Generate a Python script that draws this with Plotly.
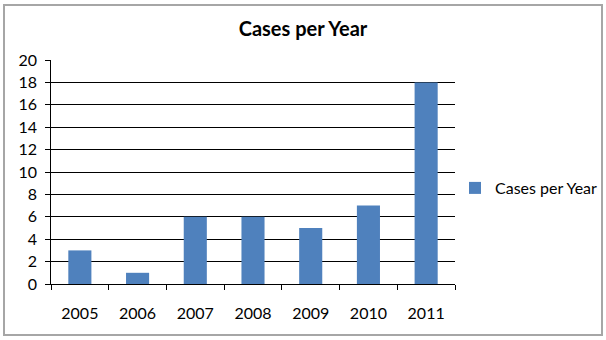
import plotly.graph_objects as go

years = ["2005", "2006", "2007", "2008", "2009", "2010", "2011"]
cases = [3, 1, 6, 6, 5, 7, 18]
series_name = "Cases per Year"
y_ticks = list(range(0, 21, 2))

W, H = 606, 340
L, R, T, B = 51, 151, 60, 56
pw, ph = W - L - R, H - T - B

fig = go.Figure()
fig.add_trace(go.Bar(x=years, y=cases, name=series_name,
                     marker=dict(color="#4F81BD", line=dict(width=0))))
# invisible copy that carries the (offset) tick labels
fig.add_trace(go.Bar(x=years, y=cases, xaxis="x2", yaxis="y2", opacity=0,
                     showlegend=False, hoverinfo="skip"))

def px_x(p):
    return (p - L) / pw

def px_y(p):
    return (H - B - p) / ph

fig.add_shape(type="rect", xref="paper", yref="paper",
              x0=px_x(4), x1=px_x(602), y0=px_y(335), y1=px_y(5),
              line=dict(color="#A6A6A6", width=2), fillcolor="rgba(0,0,0,0)",
              layer="below")

clear = "rgba(0,0,0,0)"

fig.update_layout(
    width=W, height=H,
    margin=dict(l=L, r=R, t=T, b=B, autoexpand=False),
    paper_bgcolor="white", plot_bgcolor="white",
    font=dict(family="Lato, Open Sans, sans-serif", color="#000", size=16),
    title=dict(text="<b>Cases per Year</b>", x=0.5, xanchor="center",
               xref="container", yref="container",
               y=1 - 29 / H, yanchor="middle", font=dict(size=20)),
    bargap=0.6,
    showlegend=True,
    legend=dict(xref="container", yref="container",
                x=455 / W, xanchor="left", y=1 - 188 / H, yanchor="middle",
                font=dict(size=16), bgcolor="rgba(0,0,0,0)"),
    xaxis=dict(type="category", categoryarray=years, range=[-0.5, 6.5],
               showline=True, linecolor="#000", linewidth=1,
               ticks="outside", ticklen=5, tickcolor="#000", automargin=False,
               tickfont=dict(color=clear), tickson="boundaries", showgrid=False),
    yaxis=dict(range=[0, 20], tickvals=y_ticks, showline=True, linecolor="#000",
               linewidth=1, ticks="outside", ticklen=5, tickcolor="#000",
               automargin=False, tickfont=dict(color=clear),
               showgrid=True, gridcolor="#000", gridwidth=1, zeroline=False),
    xaxis2=dict(type="category", categoryarray=years, range=[-0.5, 6.5],
                overlaying="x", anchor="y2", side="bottom", showline=False,
                ticks="", showgrid=False, automargin=False,
                ticklabelstandoff=18),
    yaxis2=dict(range=[0, 20], tickvals=y_ticks, overlaying="y", anchor="x2",
                side="left", showline=False, ticks="", showgrid=False,
                zeroline=False, automargin=False, ticklabelstandoff=13),
)

fig.write_html("out.html", config={"displayModeBar": False},
               post_script="document.body.style.margin='0';document.body.style.overflow='hidden';")
